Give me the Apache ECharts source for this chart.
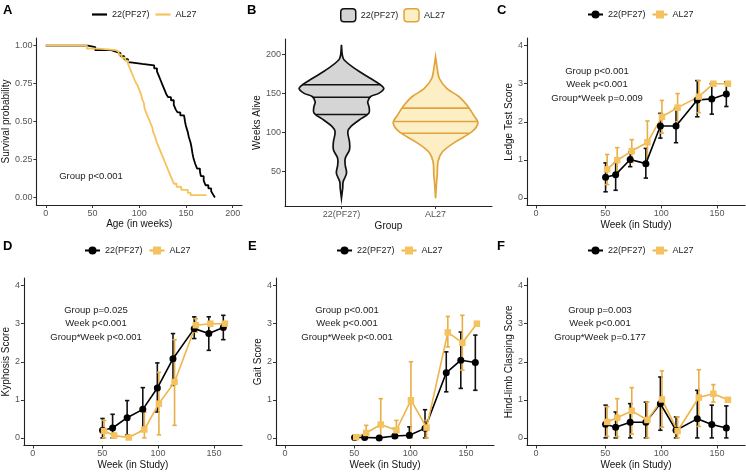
<!DOCTYPE html>
<html>
<head>
<meta charset="utf-8">
<title>Survival and frailty scores</title>
<script src="https://cdn.jsdelivr.net/npm/echarts@6/dist/echarts.min.js"></script>
<style>html,body{margin:0;padding:0;background:#fff}</style>
</head>
<body>
<div id="main" style="width:746px;height:473px;"></div>
<script>
var FONT = "'Liberation Sans', Arial, sans-serif";
var BLACK = '#000000';

// ---- data ----
var groups = ['22(PF27)', 'AL27'];

// A: Kaplan-Meier steps, [week, survival after the drop]
var survPF = [[0,1],[45,0.99],[53,0.97],[70,0.96],[75,0.95],[80,0.93],[84,0.91],[88,0.89],[91,0.88],[103,0.87],
  [116,0.85],[119,0.83],[121,0.80],[123,0.77],[125,0.74],[127,0.71],[129,0.68],[131,0.66],[134,0.64],[137,0.61],
  [139,0.58],[141,0.56],[144,0.54],[148,0.53],[149,0.50],[150,0.47],[152,0.43],[153,0.40],[155,0.36],[156,0.33],
  [157,0.29],[158,0.26],[160,0.22],[162,0.19],[165,0.17],[166,0.14],[169,0.11],[171,0.08],[174,0.06],[177,0.04],
  [179,0.02],[181,0]];
var survAL = [[0,1],[44,0.98],[57,0.97],[75,0.96],[78,0.94],[81,0.92],[85,0.90],[88,0.88],[90,0.85],[92,0.82],
  [94,0.79],[96,0.76],[98,0.74],[100,0.71],[102,0.68],[103,0.65],[105,0.62],[106,0.58],[108,0.55],[110,0.52],
  [112,0.49],[114,0.46],[115,0.43],[117,0.40],[119,0.36],[121,0.33],[123,0.30],[125,0.27],[127,0.24],[129,0.21],
  [131,0.18],[133,0.15],[135,0.12],[137,0.09],[140,0.07],[145,0.05],[152,0.03],[155,0.015],[172,0.015]];

// B: violin outline, [weeks alive, relative density], and quartiles
var densPF = [[16,0],[29,0.03],[37,0.04],[48,0.12],[58,0.09],[67,0.09],[78,0.19],[88,0.19],[101,0.15],[108,0.23],
  [116,0.42],[125,0.65],[133,0.65],[139,0.62],[146,0.69],[150,0.88],[156,1.0],[161,0.92],[169,0.69],[182,0.31],
  [193,0.06],[199,0.02],[212,0]];
var densAL = [[16,0],[33,0.02],[46,0.04],[63,0.06],[75,0.16],[88,0.47],[101,0.86],[112,1.0],[122,0.9],[135,0.74],
  [146,0.55],[156,0.27],[169,0.09],[182,0.04],[197,0]];
var quartPF = [123, 145, 161];
var quartAL = [99, 114, 131];

// C-F: assessment weeks, means and error bar ends
var weeks = [51, 60, 73, 87, 100, 114, 133, 146, 159];

var ledgePF   = [0.54, 0.61, 1.01, 0.90, 1.89, 1.89, 2.57, 2.60, 2.73];
var ledgePFhi = [0.92, 0.92, 1.20, 1.30, 2.22, 2.35, 3.08, 3.00, 3.05];
var ledgePFlo = [0.16, 0.20, 0.82, 0.52, 1.57, 1.45, 2.13, 2.20, 2.40];
var ledgeAL   = [0.75, 0.99, 1.23, 1.46, 2.13, 2.37, 2.66, 3.00, 3.00];
var ledgeALhi = [1.14, 1.32, 1.53, 2.02, 2.56, 2.74, 3.08, 3.00, 3.00];
var ledgeALlo = [0.35, 0.66, 0.93, 0.88, 1.70, 2.00, 2.24, 3.00, 3.00];

var kyphPF   = [0.20, 0.26, 0.53, 0.75, 1.31, 2.08, 2.87, 2.74, 2.90];
var kyphPFhi = [0.51, 0.62, 0.98, 1.32, 1.97, 2.74, 3.18, 3.18, 3.22];
var kyphPFlo = [0.00, 0.00, 0.08, 0.18, 0.68, 1.38, 2.61, 2.30, 2.58];
var kyphAL   = [0.18, 0.06, 0.01, 0.22, 0.90, 1.47, 2.96, 3.00, 3.00];
var kyphALhi = [0.46, 0.12, 0.01, 0.68, 1.72, 2.58, 3.13, 3.00, 3.00];
var kyphALlo = [0.00, 0.00, 0.01, 0.00, 0.08, 0.33, 2.78, 3.00, 3.00];

var gaitPF   = [0.01, 0.01, 0.00, 0.05, 0.07, 0.25, 1.71, 2.04, 1.98];
var gaitPFhi = [0.01, 0.01, 0.00, 0.25, 0.29, 0.74, 2.26, 2.78, 2.70];
var gaitPFlo = [0.01, 0.01, 0.00, 0.00, 0.00, 0.00, 1.21, 1.30, 1.25];
var gaitAL   = [0.02, 0.13, 0.35, 0.20, 0.99, 0.27, 2.77, 2.50, 3.00];
var gaitALhi = [0.02, 0.33, 1.03, 0.46, 2.00, 0.46, 3.19, 3.22, 3.00];
var gaitALlo = [0.02, 0.00, 0.00, 0.00, 0.00, 0.00, 2.39, 1.78, 3.00];

var claspPF   = [0.36, 0.28, 0.41, 0.41, 0.90, 0.20, 0.50, 0.35, 0.26];
var claspPFhi = [0.86, 0.68, 0.90, 0.94, 1.60, 0.55, 1.25, 0.86, 0.84];
var claspPFlo = [0.00, 0.00, 0.00, 0.00, 0.20, 0.00, 0.00, 0.00, 0.00];
var claspAL   = [0.42, 0.53, 0.71, 0.47, 1.01, 0.18, 1.06, 1.16, 1.00];
var claspALhi = [0.82, 1.03, 1.32, 0.94, 1.76, 0.55, 1.79, 1.40, 1.00];
var claspALlo = [0.04, 0.03, 0.10, 0.00, 0.28, 0.00, 0.30, 0.94, 1.00];

var statsA = ['Group p<0.001'];
var statsC = ['Group p<0.001', 'Week p<0.001', 'Group*Week p=0.009'];
var statsD = ['Group p=0.025', 'Week p<0.001', 'Group*Week p<0.001'];
var statsE = ['Group p<0.001', 'Week p<0.001', 'Group*Week p<0.001'];
var statsF = ['Group p=0.003', 'Week p<0.001', 'Group*Week p=0.177'];

var survTicks = [0, 0.25, 0.5, 0.75, 1];
var ageTicks = [0, 50, 100, 150, 200];
var aliveTicks = [50, 100, 150, 200];
var scoreTicks = [0, 1, 2, 3, 4];
// the figure's first week break sits left of where 0 would fall on this scale
var weekTicks = [-12, 50, 100, 150];
var weekTickText = ['0', '50', '100', '150'];

// ---- layout ----
var grids = [
  {left: 35,  top: 38,  width: 207, height: 167},   // A
  {left: 285, top: 39,  width: 207, height: 167},   // B
  {left: 527, top: 38,  width: 218, height: 167.5}, // C
  {left: 23,  top: 278, width: 219, height: 167.5}, // D
  {left: 276, top: 278, width: 218, height: 167.5}, // E
  {left: 527, top: 278, width: 218, height: 167.5}  // F
];

function valueAxis(gi, min, max, ticks, name, gap, fmt) {
  return {
    type: 'value', gridIndex: gi, min: min, max: max,
    name: name, nameLocation: 'middle', nameGap: gap,
    nameTextStyle: {color: '#111', fontSize: 10, fontFamily: FONT},
    axisLine: {show: true, onZero: false, lineStyle: {color: '#222', width: 1.1}},
    axisTick: {show: true, length: 3, customValues: ticks, lineStyle: {color: '#333', width: 1}},
    axisLabel: {show: true, customValues: ticks, fontSize: 9, color: '#555', margin: 4,
      fontFamily: FONT, formatter: fmt},
    splitLine: {show: false}
  };
}
function weekFmt(v) {
  var i = weekTicks.indexOf(Math.round(v));
  return i < 0 ? '' : weekTickText[i];
}

var xAxes = [
  valueAxis(0, -10, 210, ageTicks, 'Age (in weeks)', 13),
  valueAxis(1, 0.4, 2.6, [1, 2], 'Group', 15, function (v) { return groups[Math.round(v) - 1]; }),
  valueAxis(2, -20, 175, weekTicks, 'Week (in Study)', 15, weekFmt),
  valueAxis(3, -20, 175, weekTicks, 'Week (in Study)', 15, weekFmt),
  valueAxis(4, -20, 175, weekTicks, 'Week (in Study)', 15, weekFmt),
  valueAxis(5, -20, 175, weekTicks, 'Week (in Study)', 15, weekFmt)
];
var yAxes = [
  valueAxis(0, -0.05, 1.05, survTicks, 'Survival probability', 18, function (v) { return v.toFixed(2); }),
  valueAxis(1, 6, 219.5, aliveTicks, 'Weeks Alive', 20),
  valueAxis(2, -0.2, 4.2, scoreTicks, 'Ledge Test Score', 13),
  valueAxis(3, -0.2, 4.2, scoreTicks, 'Kyphosis Score', 6),
  valueAxis(4, -0.2, 4.2, scoreTicks, 'Gait Score', 12),
  valueAxis(5, -0.2, 4.2, scoreTicks, 'Hind-limb Clasping Score', 13)
];

var series = [];
var legends = [];
var graphics = [];

function legendFmt(name) { return name.split('|')[1]; }
function addLegend(key, left, top, extra) {
  var l = {
    left: left, top: top, itemWidth: 15, itemHeight: 10, itemGap: 6, selectedMode: false,
    data: [key + '|' + groups[0], key + '|' + groups[1]],
    formatter: legendFmt,
    textStyle: {fontSize: 9, color: '#222', fontFamily: FONT}
  };
  for (var k in extra) l[k] = extra[k];
  legends.push(l);
}

// A: survival curves
series.push({
  name: 'A|' + groups[0], type: 'line', xAxisIndex: 0, yAxisIndex: 0, step: 'end',
  symbol: 'none', data: survPF, lineStyle: {color: BLACK, width: 1.8}, itemStyle: {color: BLACK}
});
series.push({
  name: 'A|' + groups[1], type: 'line', xAxisIndex: 0, yAxisIndex: 0, step: 'end',
  symbol: 'none', data: survAL, lineStyle: {color: '#f6c35a', width: 1.8}, itemStyle: {color: '#f6c35a'}
});
addLegend('A', 87, 5, {icon: 'rect', itemHeight: 2.2});

// B: violins
var HALF = 0.45;
function widthAt(dens, w) {
  for (var i = 1; i < dens.length; i++) {
    if (w <= dens[i][0]) {
      var a = dens[i - 1], b = dens[i];
      return a[1] + (b[1] - a[1]) * (w - a[0]) / (b[0] - a[0]);
    }
  }
  return 0;
}
function violinRenderer(dens, quart, stroke) {
  return function (params, api) {
    var pos = api.value(0);
    var pts = [], left = [];
    dens.forEach(function (d) {
      pts.push(api.coord([pos + d[1] * HALF, d[0]]));
      left.unshift(api.coord([pos - d[1] * HALF, d[0]]));
    });
    pts = pts.concat(left);
    var kids = [{
      type: 'polygon', shape: {points: pts, smooth: 0.35},
      style: {fill: api.visual('color'), stroke: stroke, lineWidth: 1.7}
    }];
    quart.forEach(function (q) {
      var hw = widthAt(dens, q) * HALF;
      var a = api.coord([pos - hw, q]), b = api.coord([pos + hw, q]);
      kids.push({type: 'line', shape: {x1: a[0], y1: a[1], x2: b[0], y2: b[1]},
        style: {stroke: stroke, lineWidth: 1.7}});
    });
    return {type: 'group', children: kids};
  };
}
series.push({
  name: 'B|' + groups[0], type: 'custom', xAxisIndex: 1, yAxisIndex: 1,
  data: [[1, quartPF[1]]], itemStyle: {color: '#d5d5d5'},
  renderItem: violinRenderer(densPF, quartPF, '#111111')
});
series.push({
  name: 'B|' + groups[1], type: 'custom', xAxisIndex: 1, yAxisIndex: 1,
  data: [[2, quartAL[1]]], itemStyle: {color: '#fcefc6'},
  renderItem: violinRenderer(densAL, quartAL, '#e2a33c')
});
legends.push({
  left: 335, top: 3, itemWidth: 15, itemHeight: 13, itemGap: 5, selectedMode: false,
  icon: 'roundRect', formatter: legendFmt,
  textStyle: {fontSize: 9, color: '#222', fontFamily: FONT},
  data: [
    {name: 'B|' + groups[0], itemStyle: {color: '#d5d5d5', borderColor: '#111', borderWidth: 1.5}},
    {name: 'B|' + groups[1], itemStyle: {color: '#fcefc6', borderColor: '#e2a33c', borderWidth: 1.5}}
  ]
});

// C-F: score panels
var DODGE = 0.7;
function errorBarRenderer(color) {
  return function (params, api) {
    var x = api.value(0);
    var lo = api.coord([x, api.value(1)]), hi = api.coord([x, api.value(2)]);
    var cap = 2.2, st = {stroke: color, lineWidth: 1.6};
    return {type: 'group', children: [
      {type: 'line', shape: {x1: lo[0], y1: lo[1], x2: hi[0], y2: hi[1]}, style: st},
      {type: 'line', shape: {x1: lo[0] - cap, y1: lo[1], x2: lo[0] + cap, y2: lo[1]}, style: st},
      {type: 'line', shape: {x1: hi[0] - cap, y1: hi[1], x2: hi[0] + cap, y2: hi[1]}, style: st}
    ]};
  };
}
function pairs(offset, vals) {
  return weeks.map(function (w, i) { return [w + offset, vals[i]]; });
}
function bars(offset, lo, hi) {
  return weeks.map(function (w, i) { return [w + offset, lo[i], hi[i]]; });
}
function scorePanel(key, gi, pf, pfLo, pfHi, al, alLo, alHi, legendLeft, legendTop) {
  series.push({type: 'custom', xAxisIndex: gi, yAxisIndex: gi, encode: {x: 0, y: [1, 2]},
    data: bars(-DODGE, pfLo, pfHi), renderItem: errorBarRenderer('#111111'), z: 2});
  series.push({type: 'custom', xAxisIndex: gi, yAxisIndex: gi, encode: {x: 0, y: [1, 2]},
    data: bars(DODGE, alLo, alHi), renderItem: errorBarRenderer('#e8ae46'), z: 2});
  series.push({name: key + '|' + groups[0], type: 'line', xAxisIndex: gi, yAxisIndex: gi, z: 3,
    data: pairs(-DODGE, pf), symbol: 'circle', symbolSize: 7, showAllSymbol: true,
    lineStyle: {color: BLACK, width: 1.6}, itemStyle: {color: BLACK}});
  series.push({name: key + '|' + groups[1], type: 'line', xAxisIndex: gi, yAxisIndex: gi, z: 3,
    data: pairs(DODGE, al), symbol: 'rect', symbolSize: 6.5, showAllSymbol: true,
    lineStyle: {color: '#eeb449', width: 1.6}, itemStyle: {color: '#f4c25f'}});
  addLegend(key, legendLeft, legendTop, {});
}
scorePanel('C', 2, ledgePF, ledgePFlo, ledgePFhi, ledgeAL, ledgeALlo, ledgeALhi, 582, 5);
scorePanel('D', 3, kyphPF, kyphPFlo, kyphPFhi, kyphAL, kyphALlo, kyphALhi, 79, 241);
scorePanel('E', 4, gaitPF, gaitPFlo, gaitPFhi, gaitAL, gaitALlo, gaitALhi, 331, 241);
scorePanel('F', 5, claspPF, claspPFlo, claspPFhi, claspAL, claspALlo, claspALhi, 582, 241);

// panel letters and test annotations
function label(text, x, y, opts) {
  var st = {text: text, x: x, y: y, fill: '#222', align: 'center', verticalAlign: 'middle',
    font: '9.5px ' + FONT};
  for (var k in opts) st[k] = opts[k];
  graphics.push({type: 'text', silent: true, style: st, z: 10});
}
[['A', 3, 4], ['B', 247, 4], ['C', 497, 4], ['D', 3, 240], ['E', 248, 240], ['F', 497, 240]].forEach(function (p) {
  label(p[0], p[1], p[2], {align: 'left', verticalAlign: 'top', fill: '#000', font: 'bold 13px ' + FONT});
});
function stats(lines, cx, cy) {
  lines.forEach(function (t, i) { label(t, cx, cy + i * 13.5); });
}
stats(statsA, 91, 176);
stats(statsC, 597, 71);
stats(statsD, 96, 310);
stats(statsE, 347, 310);
stats(statsF, 600, 310);

var chart = echarts.init(document.getElementById('main'), null, {renderer: 'canvas'});
chart.setOption({
  animation: false,
  backgroundColor: '#ffffff',
  textStyle: {fontFamily: FONT},
  grid: grids,
  xAxis: xAxes,
  yAxis: yAxes,
  legend: legends,
  series: series,
  graphic: graphics
});
</script>
</body>
</html>
